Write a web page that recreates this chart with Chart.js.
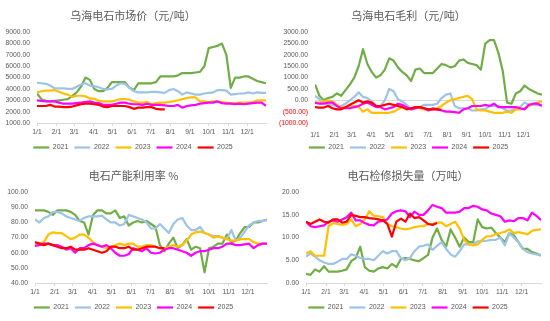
<!DOCTYPE html>
<html>
<head>
<meta charset="utf-8">
<script src="https://cdn.jsdelivr.net/npm/chart.js@4.4.1/dist/chart.umd.min.js"></script>
<style>
    body { margin: 0; background: #fff; width: 550px; height: 321px; position: relative; overflow: hidden; }
    .panel { position: absolute; width: 275px; height: 160px; }
</style>
</head>
<body>
<div class="panel" style="left:0;top:0"><canvas id="priceChart" width="275" height="160"></canvas></div>
<div class="panel" style="left:275px;top:0"><canvas id="marginChart" width="275" height="160"></canvas></div>
<div class="panel" style="left:0;top:160px"><canvas id="utilChart" width="275" height="160"></canvas></div>
<div class="panel" style="left:275px;top:160px"><canvas id="lossChart" width="275" height="160"></canvas></div>
<script>
// weekly samples, x = day of year
const weekDays = Array.from({ length: 53 }, (_, i) => i * 7);
const monthDays = [0, 31, 59, 90, 120, 151, 181, 212, 243, 273, 304, 334];
const monthLabels = ['1/1', '2/1', '3/1', '4/1', '5/1', '6/1', '7/1', '8/1', '9/1', '10/1', '11/1', '12/1'];
const years = ['2021', '2022', '2023', '2024', '2025'];
const yearColors = ['#70AD47', '#9DC3E6', '#FFC000', '#FF00FF', '#FF0000'];

// 乌海电石市场价（元/吨）
const price2021 = [3600,3100,2950,2900,2950,3000,3050,3100,3400,3700,4200,5000,4800,4000,3800,3800,4100,4600,4600,4600,4600,4100,3900,4500,4500,4500,4500,4600,5100,5100,5100,5100,5200,5400,5400,5400,5450,5500,6000,7600,7700,7800,8000,7000,4100,5000,5000,5100,5100,4900,4700,4600,4500];
const price2022 = [4550,4500,4450,4300,4050,4050,4050,4000,4000,4200,4400,4500,4300,4250,4150,4000,3950,4000,4300,4500,4450,4100,3800,3700,3700,3700,3750,3750,3700,3650,3900,4000,3800,3500,3700,3600,3500,3500,3600,3650,3700,3900,3900,3850,3500,3550,3600,3600,3700,3600,3700,3650,3650];
const price2023 = [3700,3800,3850,3850,3900,3750,3600,3500,3300,3400,3400,3350,3150,3150,2950,2900,2900,2900,3000,3100,3100,3050,2900,2800,2800,2850,2650,2750,2800,2800,2850,2900,3000,3100,3200,3250,3250,2900,2900,2850,2900,2900,2850,2800,2750,2750,2800,2800,2800,2850,3000,3000,3000];
const price2024 = [3000,2950,2900,2900,2900,2800,2700,2700,2700,2750,2800,2850,2900,2800,2750,2600,2600,2600,2700,2800,2800,2700,2650,2650,2600,2700,2600,2600,2600,2550,2500,2500,2600,2350,2500,2550,2600,2700,2750,2800,2800,2900,2750,2700,2700,2650,2700,2650,2700,2750,2800,2800,2500];
const price2025 = [2500,2500,2500,2600,2450,2450,2400,2400,2450,2550,2650,2700,2700,2650,2600,2450,2400,2500,2500,2500,2500,2400,2250,2350,2350,2400,2400,2250,2200,2200];

// 乌海电石毛利（元/吨）
const margin2021 = [700,200,0,100,150,300,200,450,700,1000,1500,2250,1600,1250,1000,1100,1350,1850,1750,1450,1250,1100,850,1350,1400,1200,1200,1200,1400,1600,1550,1450,1500,1750,1800,1650,1600,1550,1350,2500,2650,2650,2100,1300,-100,-150,300,400,650,500,400,300,250];
const margin2022 = [200,50,-100,-200,-200,-250,-250,-150,0,150,350,150,100,-50,-250,-250,0,500,400,50,-50,-200,-400,-350,-300,-200,-200,-200,-150,100,250,300,-250,-350,-350,-350,-450,-450,-400,-400,-250,-250,-250,-350,-450,-450,-350,-300,-100,-200,-200,-200,-200];
const margin2023 = [-100,-100,-50,0,-50,-200,-300,-300,-300,-250,-300,-500,-400,-550,-550,-550,-550,-550,-500,-400,-300,-350,-350,-350,-350,-400,-400,-400,-350,-250,-100,0,50,100,150,200,50,-400,-450,-450,-500,-550,-550,-550,-500,-550,-400,-400,-350,-250,-150,-100,-50];
const margin2024 = [-100,-150,-150,-100,-100,-250,-350,-350,-350,-300,-250,-150,-100,-200,-300,-300,-400,-350,-300,-150,-200,-300,-400,-350,-300,-350,-450,-350,-400,-450,-500,-500,-520,-550,-400,-350,-250,-250,-250,-200,-250,-150,-300,-300,-300,-300,-300,-350,-400,-200,-150,-150,-250];
const margin2025 = [-300,-320,-320,-250,-350,-400,-400,-300,-200,-100,0,-100,-50,-100,-250,-250,-200,-150,-200,-250,-300,-400,-350,-300,-300,-350,-400,-400,-400,-420];

// 电石产能利用率 %
const util2021 = [88,88,88,87,85,88,88,88,87,85,81,80,72,85,88,88,86,86,88,83,84,78,80,81,80,81,79,77,65,61,66,70,63,65,69,62,64,63,47,63,64,66,66,72,67,68,73,77,77,80,80,81,82];
const util2022 = [82,80,83,84,87,87,86,84,83,82,81,83,84,84,84,84.5,82,80,80,78,79,85,84,83,82,80,76,76,79,76,73,79,82,83,78,75,75,77,73,72,71,71,70,69,75,68,70,74,78,80,81,81,81.5];
const util2023 = [66,66,67,72,73.5,73,73,71,69,70,72,72,70,67,65,64,63,63,65,66,65,66,66,64,64,65,65,64,63,63,64,65,64,65,68,72,73.5,74,73,72,70,71,70,69,68,68,69,69,69,67,66,66,66];
const util2024 = [64.5,65,66,66,65,65,64,62,63,60,63,63,65,66,65,64,65,63,60,58,58,59,63,62,61,63,60,59.5,60,62,63,63,62,61,60,58,60,61,61,62,63,63,64,66,66,65,65,65.5,66,63,65,66,66];
const util2025 = [67,66,65,66,65,64,63,63,64,62,62,62,63,62,61,60,61,64,64,63,63,64,62,62,63,64,64,64,63,63];

// 电石检修损失量（万吨）
const loss2021 = [2,1.8,3,2.5,3.7,2.5,2.5,2.5,2.7,3,4.8,5.5,8,3.5,2.7,2.5,3.2,3.5,3.2,4.2,3.5,5.3,5.5,5.3,5,4.8,5.5,6.2,10,12,9.5,8,11.8,10,8,10,9,9,14,12.3,12,12.2,11,10,9,11,10.5,9,7.5,7.5,6.8,6.5,6];
const loss2022 = [5.8,6.5,5.8,5,4.5,4.2,4.2,4.7,5.3,5.3,6.3,6,5.5,5.3,5.3,5,6,7,6.5,7,7,5.5,5,5.5,7,8,8.2,8.5,7.3,8.2,9,7.5,6.3,5.8,7,8.5,8.5,8.5,9.2,9.2,9.3,9.5,9.5,10,8.3,11,10,9,7.5,6.8,6.5,6.3,6.2];
const loss2023 = [6.5,7,6,6,6,12.5,13.2,13,12.8,13,14,12.5,13,14,15.8,14.8,14.7,14.5,13,12.5,12.3,12,11.8,12,12.3,12.5,12.5,13,13,13.3,13.3,12.5,13,13.5,12,9.5,8.5,8.3,8.5,9.5,10.3,10.3,10.8,11,11.3,11.8,11,11.2,11,10.7,11.5,11.7,11.8];
const loss2024 = [13.5,12.5,12.3,12.5,12.7,13.5,13.8,13.5,14,14.5,15.5,13.8,13.8,13.2,12.8,12.7,13.5,13.7,14,15.3,15.8,16,15.8,14.5,15.7,15,15,16,17.2,16.8,16.5,15.5,15.5,15.5,15.7,16.5,16.5,17,16.8,16.2,16,15.3,15,14.7,13.5,13.8,13.6,14.3,14.3,13.8,15.5,14.8,13.8];
const loss2025 = [13.5,13,13.5,14,13.5,13.3,14,14,13.3,13.5,15,14.8,14.5,14.5,14.3,14.2,14,13.8,13,10.2,13.5,14.2,13.5,15.3,14.3,14.5,13.8,13,12.8,13.2];

const textColor = '#595959';
const axisColor = '#D9D9D9';
const numFont = "'Liberation Sans', Arial, sans-serif";
const titleFont = "'Noto Sans CJK SC', sans-serif";

function makeChart(id, title, series, yMin, yMax, yStep, opts) {
    const zeroLine = opts.zeroLine || false;
    return new Chart(document.getElementById(id), {
        type: 'line',
        data: {
            labels: weekDays,
            datasets: series.map((values, i) => ({
                label: years[i],
                data: values,
                borderColor: yearColors[i],
                backgroundColor: yearColors[i],
                borderWidth: 2.2,
                pointRadius: 0,
                tension: 0,
                borderJoinStyle: 'round',
                order: series.length - i   // later years drawn on top
            }))
        },
        options: {
            responsive: false,
            animation: false,
            events: [],
            layout: { padding: { right: opts.right, bottom: -1 } },
            plugins: {
                title: {
                    display: true,
                    text: title,
                    color: textColor,
                    font: { family: titleFont, size: 11, weight: 'normal' },
                    padding: { top: 9, bottom: 10 }
                },
                legend: {
                    position: 'bottom',
                    labels: {
                        usePointStyle: true,
                        pointStyle: 'line',
                        pointStyleWidth: 16,
                        padding: 6,
                        color: textColor,
                        font: { family: numFont, size: 7 },
                        sort: (a, b) => a.datasetIndex - b.datasetIndex
                    }
                },
                tooltip: { enabled: false }
            },
            scales: {
                x: {
                    type: 'linear',
                    min: 0,
                    max: 364,
                    afterBuildTicks: axis => { axis.ticks = monthDays.map(v => ({ value: v })); },
                    afterFit: axis => { axis.height = 15; },
                    ticks: {
                        autoSkip: false,
                        maxRotation: 0,
                        padding: zeroLine ? 5.5 : 2.5,
                        color: textColor,
                        font: { family: numFont, size: 6.8 },
                        callback: v => monthLabels[monthDays.indexOf(v)]
                    },
                    grid: { display: !zeroLine, drawOnChartArea: false, tickLength: 3, color: axisColor },
                    border: { display: !zeroLine, color: axisColor }
                },
                y: {
                    min: yMin,
                    max: yMax,
                    afterFit: axis => { axis.width = opts.yWidth; },
                    ticks: {
                        stepSize: yStep,
                        padding: 7,
                        color: c => c.tick.value < 0 ? '#FF0000' : textColor,
                        font: { family: numFont, size: 6.8 },
                        callback: v => v < 0 ? '(' + Math.abs(v).toFixed(2) + ')' : v.toFixed(2)
                    },
                    grid: {
                        display: zeroLine,
                        drawTicks: false,
                        color: c => c.tick.value === 0 ? axisColor : 'rgba(0,0,0,0)'
                    },
                    border: { display: false }
                }
            }
        }
    });
}

makeChart('priceChart', '乌海电石市场价（元/吨）',
    [price2021, price2022, price2023, price2024, price2025], 1000, 9000, 1000, { yWidth: 37, right: 9 });
makeChart('marginChart', '乌海电石毛利（元/吨）',
    [margin2021, margin2022, margin2023, margin2024, margin2025], -1000, 3000, 500, { yWidth: 40, right: 8, zeroLine: true });
makeChart('utilChart', '电石产能利用率 %',
    [util2021, util2022, util2023, util2024, util2025], 40, 100, 10, { yWidth: 35, right: 8 });
makeChart('lossChart', '电石检修损失量（万吨）',
    [loss2021, loss2022, loss2023, loss2024, loss2025], 0, 20, 5, { yWidth: 31, right: 9 });
</script>
</body>
</html>
